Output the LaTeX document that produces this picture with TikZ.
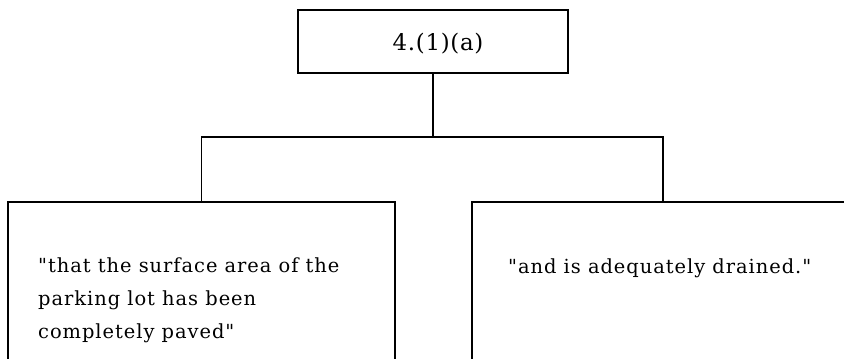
\documentclass[tikz,border=0pt]{standalone}
\usepackage{fontspec}
\setmainfont{DejaVu Serif}[Ligatures=TeXOff]
\newfontfamily\spacedserif{DejaVu Serif}[Ligatures=TeXOff, LetterSpace=5]
\newfontfamily\headserif{DejaVu Serif}[Ligatures=TeXOff, LetterSpace=3]
\begin{document}
\begin{tikzpicture}[x=1bp,y=-1bp,
  box/.style={draw, line width=2bp, rectangle, inner sep=0pt},
  link/.style={line width=1.3bp},
  txt/.style={inner sep=0pt, font=\spacedserif\fontsize{19.5}{32.7}\selectfont, align=left}]
  \useasboundingbox (0,0) rectangle (844,358);
  \clip (0,0) rectangle (844,358);
  % top box
  \node[box, line width=2.4bp, minimum width=270bp, minimum height=63bp] (top) at (433,41.5) {};
  \node[inner sep=0pt, anchor=base, font=\headserif\fontsize{23}{28}\selectfont] (toptext) at (438,50) {4.(1)(a)};
  % lower boxes, running past the bottom edge
  \node[box, minimum width=387bp, minimum height=180bp, anchor=north] (left) at (201.5,201) {};
  \node[box, minimum width=382bp, minimum height=180bp, anchor=north] (right) at (663,201) {};
  \node[txt, anchor=base west] (lefttext) at (38,338)
    {"that the surface area of the\\parking lot has been\\completely paved"};
  \node[txt, anchor=base west] (righttext) at (508,273) {"and is adequately drained."};
  % connectors
  \coordinate (j) at (433,137);
  \draw[link] (top.south) -- (j);
  \draw[link] (left.north) |- (j) -| (right.north);
\end{tikzpicture}
\end{document}
